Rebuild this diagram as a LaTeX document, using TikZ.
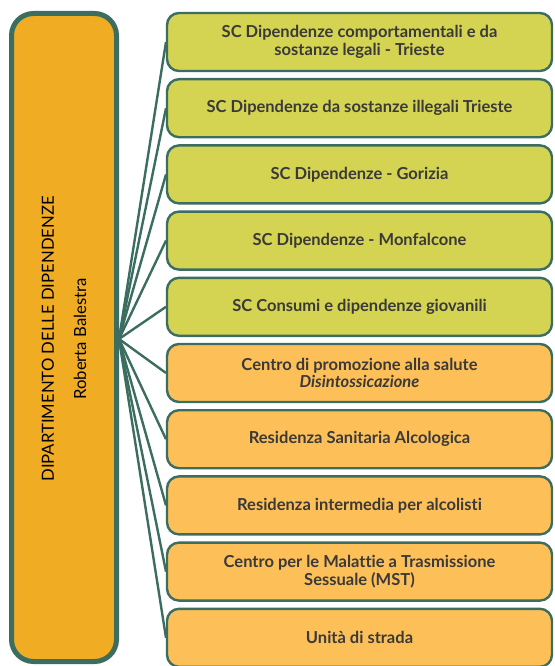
\documentclass[tikz,border=0pt]{standalone}
\usepackage{fontspec}
\setmainfont{Lato}[Ligatures=NoCommon]
\begin{document}
\definecolor{edge}{HTML}{3B6E60}
\definecolor{deptfill}{HTML}{F0AC22}
\definecolor{scfill}{HTML}{D4D352}
\definecolor{unitfill}{HTML}{FDBF57}
\definecolor{ink}{HTML}{3A3A3A}
\begin{tikzpicture}[x=1pt,y=-1pt,
  dept/.style={draw=edge,line width=5pt,fill=deptfill,rounded corners=22pt},
  unit/.style={draw=edge,line width=2.4pt,rounded corners=12pt,
    minimum width=385pt,minimum height=58pt,inner sep=0pt,
    align=center,text=ink,font=\fontsize{16.5}{17.5}\selectfont\bfseries},
  scbox/.style={unit,fill=scfill},
  svcbox/.style={unit,fill=unitfill},
  deptlabel/.style={rotate=90,font=\fontsize{16.7}{17}\selectfont},
  link/.style={draw=edge,line width=2.4pt}]
\useasboundingbox (0,0) rectangle (554,666);

% department box
\draw[dept] (11.5,13.5) rectangle (116.5,661.5);
\coordinate (hub) at (119,339);
\node[deptlabel] (title) at (48,339) {DIPARTIMENTO DELLE DIPENDENZE};
\node[deptlabel] (head) at (80,339) {Roberta Balestra};

% connectors first, so the boxes cover their ends
\foreach \y [count=\i] in {42.0,108.2,174.4,240.6,306.8,373.0,439.2,505.4,571.6,637.8} {
  \coordinate (e\i) at (166,\y);
  \path[link] (hub) -- (e\i);
}

% structures
\node[scbox] (b1) at (359.5,42.0) {SC Dipendenze comportamentali e da\\sostanze legali - Trieste};
\node[scbox] (b2) at (359.5,108.2) {SC Dipendenze da sostanze illegali Trieste};
\node[scbox] (b3) at (359.5,174.4) {SC Dipendenze - Gorizia};
\node[scbox] (b4) at (359.5,240.6) {SC Dipendenze - Monfalcone};
\node[scbox] (b5) at (359.5,306.8) {SC Consumi e dipendenze giovanili};
\node[svcbox] (b6) at (359.5,373.0) {Centro di promozione alla salute\\\textit{Disintossicazione}};
\node[svcbox] (b7) at (359.5,439.2) {Residenza Sanitaria Alcologica};
\node[svcbox] (b8) at (359.5,505.4) {Residenza intermedia per alcolisti};
\node[svcbox] (b9) at (359.5,571.6) {Centro per le Malattie a Trasmissione\\Sessuale (MST)};
\node[svcbox] (b10) at (359.5,637.8) {Unità di strada};
\end{tikzpicture}
\end{document}
